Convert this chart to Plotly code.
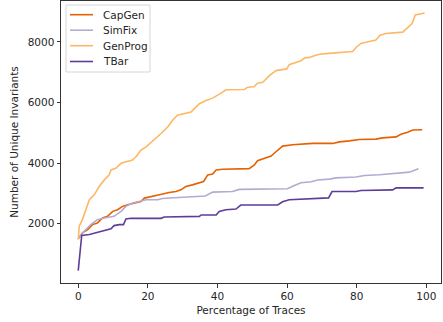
import plotly.graph_objects as go

capgen_x = [0, 1.2, 2.7, 4.1, 5.5, 7, 8.4, 9.9, 11.3, 12.7, 14.2, 16.6, 18, 19, 21.4, 23.3, 26.1, 28.1, 29.5, 30.9, 32.8, 34.8, 36, 37.2, 38.6, 39.6, 41.5, 49.1, 50.6, 51.5, 53.4, 55.4, 56.8, 58.7, 61.6, 63.5, 67.3, 73.1, 75, 77.9, 80.7, 85.5, 87.4, 91.3, 92.7, 94.6, 96.1, 98.8]
capgen_y = [1498, 1695, 1804, 1968, 2023, 2187, 2241, 2405, 2460, 2569, 2624, 2680, 2732, 2843, 2896, 2952, 3027, 3060, 3116, 3225, 3280, 3336, 3390, 3608, 3641, 3772, 3795, 3815, 3936, 4077, 4155, 4231, 4373, 4560, 4602, 4625, 4648, 4648, 4700, 4733, 4779, 4789, 4832, 4865, 4953, 5018, 5090, 5100]

simfix_x = [0, 1.7, 3.6, 5.5, 7.5, 10.3, 12.3, 13.7, 15.6, 18, 19.5, 22.8, 24.2, 27.6, 30.5, 33.3, 36.5, 38.6, 44.3, 46.3, 60.1, 62.1, 64, 66.9, 68.8, 72.1, 74, 79.8, 82.2, 86.5, 89.4, 95.1, 96.6, 97.7]
simfix_y = [1498, 1749, 1968, 2132, 2187, 2241, 2405, 2569, 2680, 2732, 2788, 2788, 2831, 2854, 2876, 2896, 2910, 3040, 3060, 3130, 3150, 3260, 3350, 3380, 3440, 3470, 3510, 3540, 3590, 3615, 3650, 3700, 3760, 3810]

genprog_x = [0, 0.3, 1.2, 2.2, 3.2, 4.6, 6, 7.5, 8.9, 9.4, 10.8, 12.3, 14.2, 15.6, 16.6, 18, 19.5, 21.8, 23.8, 25.7, 27.1, 28.5, 30.5, 32.4, 33.8, 34.8, 36.7, 38.6, 41.5, 42.4, 47.7, 48.7, 50.5, 51.5, 53, 53.9, 54.9, 56.8, 59.9, 60.6, 62.6, 64, 65, 66.4, 67.8, 69.3, 72.1, 78.8, 79.8, 81.2, 83.6, 85.5, 86.7, 88.4, 93.2, 94.2, 95.1, 95.9, 96.8, 98, 99.5]
genprog_y = [1476, 1913, 2132, 2460, 2788, 2952, 3225, 3444, 3608, 3772, 3827, 3991, 4045, 4100, 4209, 4428, 4536, 4756, 4976, 5192, 5412, 5576, 5632, 5684, 5848, 5960, 6068, 6143, 6340, 6418, 6430, 6505, 6520, 6636, 6668, 6780, 6888, 7052, 7108, 7249, 7324, 7380, 7468, 7488, 7544, 7590, 7620, 7685, 7816, 7947, 8013, 8059, 8223, 8276, 8321, 8420, 8528, 8604, 8889, 8912, 8954]

tbar_x = [0, 1, 3.2, 5.5, 7.5, 9.4, 10.3, 11.8, 13, 13.7, 15.1, 23.8, 24.7, 31.4, 34.8, 35.3, 39.6, 40.5, 42.4, 45.3, 46.7, 57.3, 58.7, 60.6, 66.4, 70.2, 71.9, 72.9, 79.8, 81.2, 90.3, 91.3, 99.2]
tbar_y = [450, 1607, 1640, 1716, 1771, 1827, 1935, 1968, 1968, 2154, 2175, 2175, 2220, 2241, 2241, 2286, 2286, 2405, 2460, 2483, 2614, 2614, 2722, 2788, 2810, 2842, 2850, 3060, 3060, 3094, 3116, 3182, 3182]

series_names = ["CapGen", "SimFix", "GenProg", "TBar"]
series_colors = ["#e66101", "#b2abd2", "#fdb863", "#5e3c99"]
series_x = [capgen_x, simfix_x, genprog_x, tbar_x]
series_y = [capgen_y, simfix_y, genprog_y, tbar_y]

W, H = 443, 322
ML, MR, MT, MB = 61, 2, 1, 39
PW, PH = W - ML - MR, H - MT - MB


def px_to_paper(px, py):
    return (px - ML) / PW, (H - MB - py) / PH


fig = go.Figure()
for name, xs, ys, col in zip(series_names, series_x, series_y, series_colors):
    fig.add_trace(go.Scatter(x=xs, y=ys, mode="lines", name=name, showlegend=False,
                             line=dict(color=col, width=1.6)))

# custom matplotlib-like legend box
shapes = []
annotations = []
x0, y0 = px_to_paper(66, 5)
x1, y1 = px_to_paper(150, 72)
shapes.append(dict(type="rect", xref="paper", yref="paper", x0=x0, y0=y1, x1=x1, y1=y0,
                   line=dict(color="#d6d6d6", width=1), fillcolor="rgba(255,255,255,0.8)",
                   layer="above"))
row_y = [14.7, 30.2, 45.7, 61.5]
for name, col, ry in zip(series_names, series_colors, row_y):
    lx0, ly = px_to_paper(70, ry)
    lx1, _ = px_to_paper(93, ry)
    shapes.append(dict(type="line", xref="paper", yref="paper", x0=lx0, x1=lx1, y0=ly, y1=ly,
                       line=dict(color=col, width=1.6), layer="above"))
    tx, _ = px_to_paper(101, ry)
    annotations.append(dict(xref="paper", yref="paper", x=tx, y=ly, xanchor="left",
                            yanchor="middle", text=name, showarrow=False,
                            font=dict(size=10.5, color="#262626")))

axis_common = dict(showline=True, linecolor="#333333", linewidth=1, mirror=True,
                   ticks="outside", ticklen=3.5, tickcolor="#333333", showgrid=False,
                   zeroline=False, automargin=False,
                   tickfont=dict(size=10.5, color="#262626"))

fig.update_layout(
    width=W, height=H,
    margin=dict(l=ML, r=MR, t=MT, b=MB),
    paper_bgcolor="white", plot_bgcolor="white",
    font=dict(family="DejaVu Sans", size=10.5, color="#262626"),
    xaxis=dict(range=[-4.95, 104.2], tickvals=[0, 20, 40, 60, 80, 100],
               title=dict(text="Percentage of Traces", standoff=5, font=dict(size=10.5)),
               **axis_common),
    yaxis=dict(range=[40, 9350], tickvals=[2000, 4000, 6000, 8000],
               title=dict(text="Number of Unique Invariants", standoff=6, font=dict(size=10.5)),
               **axis_common),
    shapes=shapes,
    annotations=annotations,
    showlegend=False,
)

fig.write_html("out.html", config={"displayModeBar": False},
               post_script="document.body.style.margin='0px';")
